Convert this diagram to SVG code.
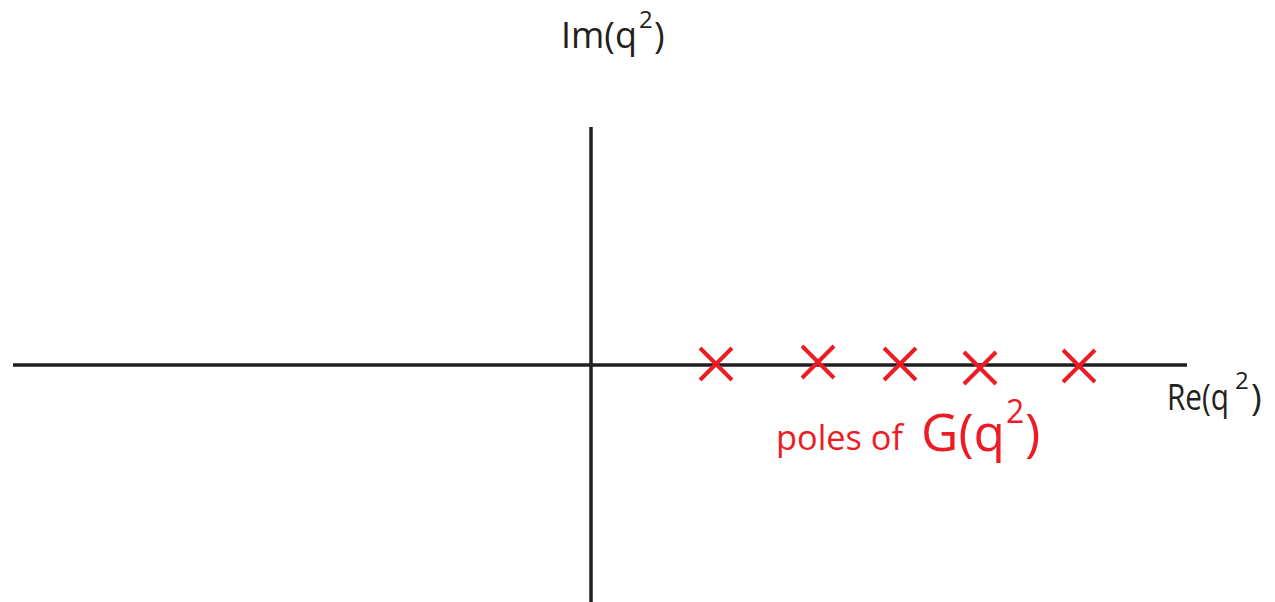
<svg xmlns="http://www.w3.org/2000/svg" width="1275" height="602" viewBox="0 0 1275 602">
<style>
.axis{stroke:#231f20;stroke-width:3.5;fill:none}
.pole{stroke:#ed1c24;stroke-width:4;fill:none}
.lbl{font-family:"Open Sans","Noto Sans",sans-serif;fill:#231f20}
.red{font-family:"Open Sans","Noto Sans",sans-serif;fill:#ed1c24}
</style>
<defs>
<path id="x" class="pole" d="M-16,-16L16,16M-16,16L16,-16"/>
</defs>
<rect width="1275" height="602" fill="#fff"/>
<g id="axes">
<line class="axis" x1="13" y1="365" x2="1187" y2="365"/>
<line class="axis" x1="591" y1="127" x2="591" y2="602"/>
</g>
<g id="poles">
<use href="#x" x="716" y="364"/>
<use href="#x" x="818" y="362"/>
<use href="#x" x="900" y="364"/>
<use href="#x" x="980" y="368"/>
<use href="#x" x="1079" y="366"/>
</g>
<g id="im-label">
<text class="lbl" font-size="36"><tspan x="561" y="48" textLength="76" lengthAdjust="spacingAndGlyphs">Im(q</tspan><tspan x="639" y="28" font-size="24">2</tspan><tspan x="654" y="48">)</tspan></text>
</g>
<g id="re-label">
<text class="lbl" font-size="36"><tspan x="1167" y="410" textLength="62" lengthAdjust="spacingAndGlyphs">Re(q</tspan><tspan x="1235" y="389" font-size="24">2</tspan><tspan x="1251" y="410">)</tspan></text>
</g>
<g id="poles-label">
<text class="red" x="776" y="450" font-size="34" textLength="127" lengthAdjust="spacingAndGlyphs">poles of</text>
<text class="red" font-size="52"><tspan x="921" y="451" textLength="84" lengthAdjust="spacingAndGlyphs">G(q</tspan><tspan x="1006" y="423" font-size="32">2</tspan><tspan x="1025" y="451">)</tspan></text>
</g>
</svg>
